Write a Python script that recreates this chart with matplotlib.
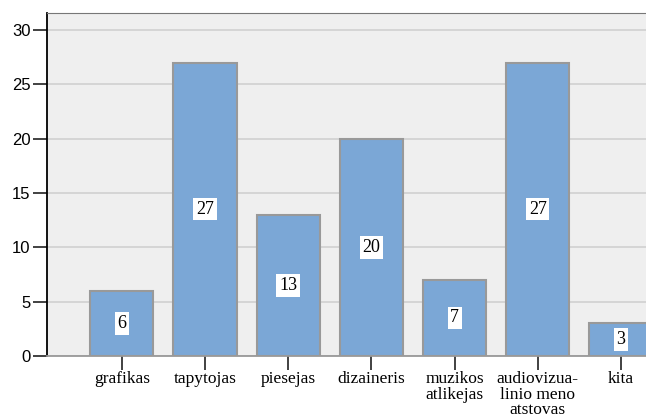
import matplotlib.pyplot as plt
import numpy as np

categories = ['grafikas', 'tapytojas', 'piesejas', 'dizaineris',
              'muzikos\natlikejas', 'audiovizua-\nlinio meno\natstovas', 'kita']
values = [6, 27, 13, 20, 7, 27, 3]
yticks = [0, 5, 10, 15, 20, 25, 30]

fig = plt.figure(figsize=(6.46, 4.19), dpi=100)
ax = fig.add_axes([47/646, 1-356/419, 1-47/646, (356-13)/419])
ax.set_facecolor('#efefef')

x = np.arange(len(values))
ax.bar(x, values, width=0.76, color='#7ba7d6', edgecolor='#999999', linewidth=1.5, zorder=3)

for xi, v in zip(x, values):
    ax.text(xi, v/2, str(v), ha='center', va='center', fontsize=13,
            family='Liberation Serif', zorder=4,
            bbox=dict(facecolor='white', edgecolor='none', pad=2))

ax.set_ylim(0, 31.56)
ax.set_xlim(-0.9, 6.3)
ax.set_yticks(yticks)
ax.yaxis.grid(True, color='#d0d0d0', linewidth=1.2, zorder=0)
ax.set_axisbelow(True)
ax.tick_params(axis='y', labelsize=12, length=10, width=1.3, color='#333333', pad=2)
ax.set_yticklabels([str(t) for t in yticks], family='Liberation Sans')
ax.set_xticks(x)
ax.set_xticklabels(categories, family='Liberation Serif', fontsize=12.5, linespacing=0.95)
ax.tick_params(axis='x', length=10, width=1.3, color='#333333', pad=1)

ax.spines['left'].set_color('black')
ax.spines['left'].set_linewidth(1.3)
ax.spines['bottom'].set_color('#999999')
ax.spines['bottom'].set_linewidth(1.3)
ax.spines['top'].set_color('#777777')
ax.spines['right'].set_visible(False)

fig.savefig('out.png', dpi=100)
